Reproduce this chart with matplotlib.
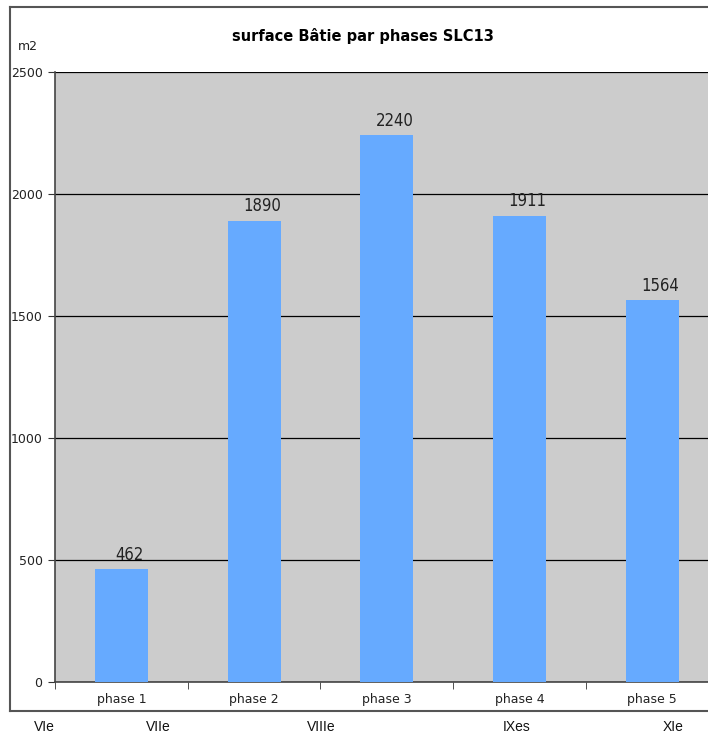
import numpy as np
import matplotlib
matplotlib.use("Agg")
import matplotlib.pyplot as plt
from matplotlib.lines import Line2D

# data
phases = ["phase 1", "phase 2", "phase 3", "phase 4", "phase 5"]
surface = [462, 1890, 2240, 1911, 1564]
periods = ["VIe", "VIIe", "VIIIe", "IXes", "XIe"]
y_ticks = [0, 500, 1000, 1500, 2000, 2500]

# layout of the period labels under the chart (data x units)
period_x = [-0.58, 0.28, 1.51, 2.98, 4.16]

W, H = 708, 738
fig = plt.figure(figsize=(W / 100, H / 100), dpi=100)
fig.patch.set_facecolor("white")

ax = fig.add_axes([55 / W, (H - 682) / H, 663.5 / W, 610 / H])
ax.set_facecolor("#cccccc")

x = np.arange(len(phases))
ax.bar(x, surface, width=0.4, color="#66aaff", zorder=3)

ax.set_xlim(-0.5, len(phases) - 0.5)
ax.set_ylim(0, 2500)
ax.set_yticks(y_ticks)
ax.yaxis.grid(True, color="black", linewidth=0.9, zorder=1)
ax.set_axisbelow(True)

ax.set_xticks(x)
ax.set_xticklabels(phases, fontsize=9, color="#222222")
ax.set_xticks(np.arange(len(phases) + 1) - 0.5, minor=True)
ax.tick_params(axis="x", which="major", length=0, pad=8)
ax.tick_params(axis="x", which="minor", length=5, color="#333333")
ax.tick_params(axis="y", length=5, color="#333333", labelsize=9, labelcolor="#222222", pad=4)

for side in ["top", "right"]:
    ax.spines[side].set_visible(False)
for side in ["left", "bottom"]:
    ax.spines[side].set_color("#444444")
    ax.spines[side].set_linewidth(1.2)

# value labels above the bars
for xi, v in zip(x, surface):
    ax.annotate(str(v), (xi, v), xytext=(6, 4), textcoords="offset points",
                ha="center", va="bottom", fontsize=12, color="#222222",
                family="DejaVu Sans", fontstretch="condensed")

fig.text(363 / W, 1 - 36 / H, "surface Bâtie par phases SLC13", ha="center",
         va="center", fontsize=10.5, fontweight="bold", color="black")
fig.text(28 / W, 1 - 46 / H, "m2", ha="center", va="center", fontsize=9,
         color="#222222")

# period labels below the chart frame
for lab, px in zip(periods, period_x):
    ax.text(px, -(727 - 682) / 610, lab, transform=ax.get_xaxis_transform(),
            ha="center", va="center", fontsize=10, color="#111111",
            family=["Liberation Sans", "DejaVu Sans"])

# outer chart frame
frame_kw = dict(color="#555555", linewidth=1.5, transform=None)
fig.add_artist(Line2D([10, W + 5], [H - 7, H - 7], **frame_kw))
fig.add_artist(Line2D([10, 10], [H - 7, H - 711], **frame_kw))
fig.add_artist(Line2D([10, W + 5], [H - 711, H - 711], **frame_kw))

fig.savefig("out.png", dpi=100)
